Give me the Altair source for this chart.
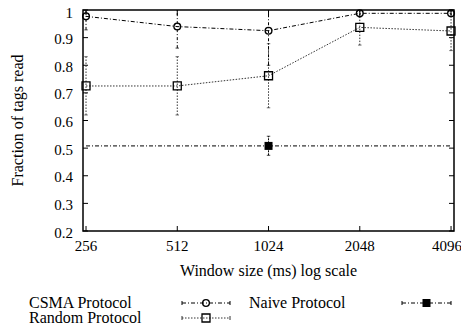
import altair as alt
import pandas as pd

# ---- data ----
window = [256, 512, 1024, 2048, 4096]
csma = [0.977, 0.940, 0.925, 0.988, 0.988]
csma_lo = [0.928, 0.862, 0.800, 0.975, 0.976]
csma_hi = [1.026, 1.018, 1.050, 1.001, 1.000]
random_p = [0.725, 0.725, 0.762, 0.937, 0.924]
random_lo = [0.620, 0.620, 0.646, 0.873, 0.853]
random_hi = [0.831, 0.831, 0.878, 1.001, 0.995]
naive_x = [1024]
naive = [0.508]
naive_lo = [0.474]
naive_hi = [0.543]
naive_span = [256, 4096]
y_ticks = [0.2, 0.3, 0.4, 0.5, 0.6, 0.7, 0.8, 0.9, 1.0]
y_tick_labels = ["0.2", "0.3", "0.4", "0.5", "0.6", "0.7", "0.8", "0.9", "1"]
x_ticks = [256, 512, 1024, 2048, 4096]
x_tick_labels = ["256", "512", "1024", "2048", "4096"]
x_title = "Window size (ms) log scale"
y_title = "Fraction of tags read"
legend_labels = ["CSMA Protocol", "Random Protocol", "Naive Protocol"]

W, H = 371, 221
FONT = "Liberation Serif"
TICK_FS = 15
TITLE_FS = 16

xs = alt.Scale(type="log", base=2, domain=[250.2, 4189], nice=False)
ys = alt.Scale(domain=[0.2, 1.0], nice=False)

csma_df = pd.DataFrame({"x": window, "y": csma, "lo": csma_lo, "hi": csma_hi})
rand_df = pd.DataFrame({"x": window, "y": random_p, "lo": random_lo, "hi": random_hi})
naive_df = pd.DataFrame({"x": naive_x, "y": naive, "lo": naive_lo, "hi": naive_hi})
naive_line_df = pd.DataFrame({"x": naive_span, "y": naive * len(naive_span)})
yt_df = pd.DataFrame({"y": y_ticks, "label": y_tick_labels})
xt_df = pd.DataFrame({"x": x_ticks, "label": x_tick_labels})
one = pd.DataFrame({"a": [0]})

X = lambda: alt.X("x:Q", scale=xs, axis=None)
Y = lambda f="y": alt.Y(f"{f}:Q", scale=ys, axis=None)

CSMA_DASH = [4, 2, 1, 2]
RAND_DASH = [1.5, 1.5]
NAIVE_DASH = [4, 2, 1, 2]
CAP = "M -1 0 L 1 0"

# inward mirrored ticks
yt_left = alt.Chart(yt_df).mark_rule(color="black", strokeWidth=1).encode(
    y=Y(), x=alt.value(0), x2=alt.value(5))
yt_right = alt.Chart(yt_df).mark_rule(color="black", strokeWidth=1).encode(
    y=Y(), x=alt.value(W - 5), x2=alt.value(W))
xt_bot = alt.Chart(xt_df).mark_rule(color="black", strokeWidth=1).encode(
    x=X(), y=alt.value(H), y2=alt.value(H - 5))
xt_top = alt.Chart(xt_df).mark_rule(color="black", strokeWidth=1).encode(
    x=X(), y=alt.value(0), y2=alt.value(5))

# tick labels and axis titles
txt = dict(font=FONT, color="black")
ylab = alt.Chart(yt_df).transform_filter("datum.y < 1").mark_text(
    align="right", baseline="middle", dy=1.5, fontSize=TICK_FS, **txt).encode(
    y=Y(), x=alt.value(-10), text="label:N")
ylab_top = alt.Chart(yt_df).transform_filter("datum.y >= 1").mark_text(
    align="right", baseline="middle", dy=3, fontSize=TICK_FS, **txt).encode(
    y=Y(), x=alt.value(-10), text="label:N")
xlab = alt.Chart(xt_df).transform_filter("datum.x < 4096").mark_text(
    align="center", baseline="middle", fontSize=TICK_FS, **txt).encode(
    x=X(), y=alt.value(H + 15), text="label:N")
xlab_last = alt.Chart(xt_df).transform_filter("datum.x >= 4096").mark_text(
    align="center", baseline="middle", dx=-4, fontSize=TICK_FS, **txt).encode(
    x=X(), y=alt.value(H + 15), text="label:N")
xtitle = alt.Chart(one).mark_text(text=x_title, align="center", baseline="middle",
                                  fontSize=TITLE_FS, **txt).encode(
    x=alt.value(W / 2), y=alt.value(H + 40))
ytitle = alt.Chart(one).mark_text(text=y_title, align="center", baseline="middle", angle=270,
                                  fontSize=TITLE_FS, **txt).encode(
    x=alt.value(-65), y=alt.value(H / 2))

def series(df, color, shape, size, filled, ebar_dash, dash=None):
    layers = []
    if dash is not None:
        layers.append(alt.Chart(df).mark_line(color=color, strokeWidth=1, strokeDash=dash).encode(x=X(), y=Y()))
    layers.append(alt.Chart(df).mark_rule(color=color, strokeWidth=1, strokeDash=ebar_dash, clip=True).encode(
        x=X(), y=Y("lo"), y2="hi:Q"))
    for f in ["lo", "hi"]:
        layers.append(alt.Chart(df).mark_point(shape=CAP, size=12, color=color, strokeWidth=1, clip=True).encode(
            x=X(), y=Y(f)))
    layers.append(alt.Chart(df).mark_point(shape=shape, size=size, color="black", filled=filled,
                                           opacity=1, strokeWidth=1.3).encode(x=X(), y=Y()))
    return layers

csma_layers = series(csma_df, "black", "circle", 46, False, [3, 2, 1, 2], CSMA_DASH)
rand_layers = series(rand_df, "#333333", "square", 64, False, [1.5, 1.5], RAND_DASH)

naive_line = alt.Chart(naive_line_df).mark_line(color="black", strokeWidth=1, strokeDash=NAIVE_DASH).encode(
    x=X(), y=Y())
naive_layers = series(naive_df, "black", "square", 64, True, [2, 1])

# legend (key) drawn in the lower margin
def key_text(label, kx, ky):
    return alt.Chart(one).mark_text(text=label, align="left", baseline="middle",
                                    fontSize=TITLE_FS, **txt).encode(
        x=alt.value(kx), y=alt.value(ky))

def key_sample(kx0, kx1, ky, dash, shape, size, filled, color):
    ln = alt.Chart(one).mark_rule(color=color, strokeWidth=1, strokeDash=dash).encode(
        x=alt.value(kx0), x2=alt.value(kx1), y=alt.value(ky))
    e0 = alt.Chart(one).mark_rule(color=color, strokeWidth=1).encode(
        x=alt.value(kx0), y=alt.value(ky - 2), y2=alt.value(ky + 2))
    e1 = alt.Chart(one).mark_rule(color=color, strokeWidth=1).encode(
        x=alt.value(kx1), y=alt.value(ky - 2), y2=alt.value(ky + 2))
    pt = alt.Chart(one).mark_point(shape=shape, size=size, filled=filled, color="black",
                                   opacity=1, strokeWidth=1.3).encode(
        x=alt.value((kx0 + kx1) / 2), y=alt.value(ky))
    return [ln, e0, e1, pt]

legend = [
    key_text(legend_labels[0], -54, 293),
    key_text(legend_labels[1], -54, 308),
    key_text(legend_labels[2], 166, 293),
] + key_sample(99, 147, 293, CSMA_DASH, "circle", 46, False, "black") \
  + key_sample(99, 147, 308, RAND_DASH, "square", 64, False, "#333333") \
  + key_sample(319, 368, 293, NAIVE_DASH, "square", 64, True, "black")

chart = alt.layer(
    yt_left, yt_right, xt_bot, xt_top, ylab, ylab_top, xlab, xlab_last, xtitle, ytitle,
    naive_line, *naive_layers,
    *rand_layers, *csma_layers, *legend
).properties(
    width=W, height=H,
    autosize=alt.AutoSizeParams(type="none"),
    padding={"left": 75, "top": 2, "right": 7, "bottom": 93},
).configure_view(
    stroke="black", strokeWidth=1.5
)

chart.save("out.html", embed_options={"renderer": "svg", "actions": False})
